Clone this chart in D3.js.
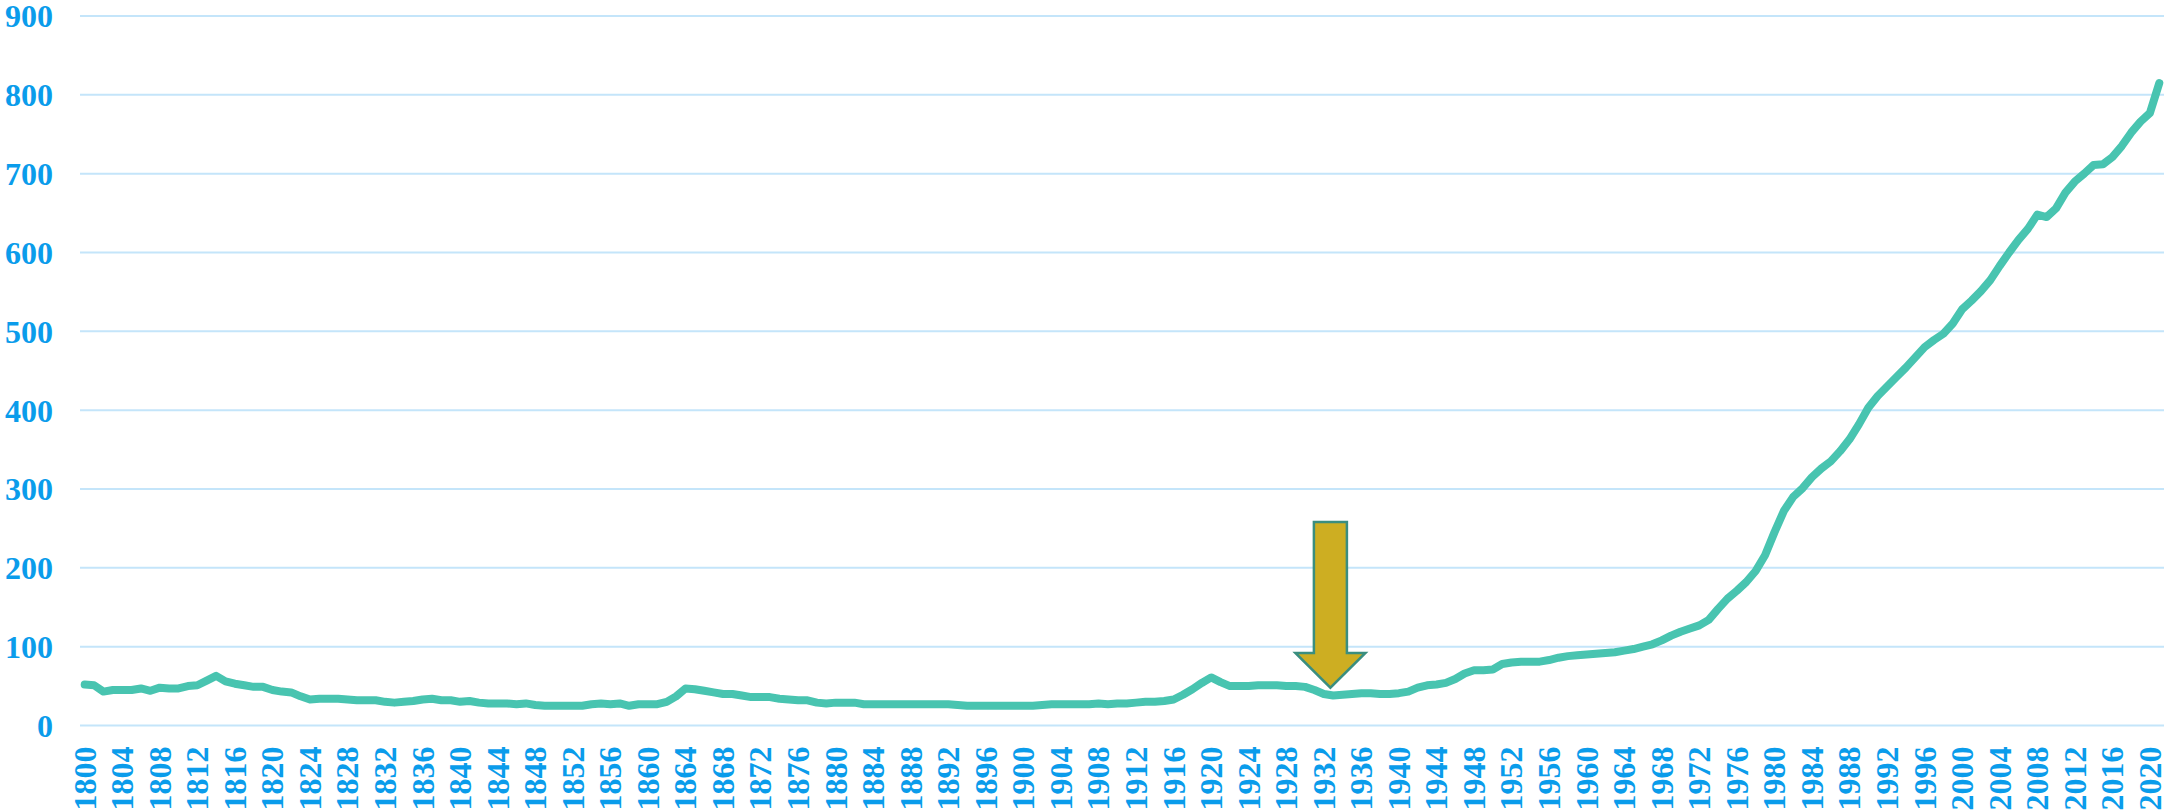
<!DOCTYPE html>
<html>
<head>
<meta charset="utf-8">
<script src="https://cdn.jsdelivr.net/npm/d3@7"></script>
<style>
  html, body { margin: 0; padding: 0; background: #ffffff; }
  svg { display: block; }
</style>
</head>
<body>
<svg id="chart" width="2168" height="811"></svg>
<script>
// ---- data ----
const firstYear = 1800;
const lastYear = 2021;
const years = d3.range(firstYear, lastYear + 1);
const values = [
  52, 51, 43, 45, 45, 45, 47, 44, 48, 47,   // 1800-1809
  47, 50, 51, 57, 63, 56, 53, 51, 49, 49,   // 1810-1819
  45, 43, 42, 37, 33, 34, 34, 34, 33, 32,   // 1820-1829
  32, 32, 30, 29, 30, 31, 33, 34, 32, 32,   // 1830-1839
  30, 31, 29, 28, 28, 28, 27, 28, 26, 25,   // 1840-1849
  25, 25, 25, 25, 27, 28, 27, 28, 25, 27,   // 1850-1859
  27, 27, 30, 37, 47, 46, 44, 42, 40, 40,   // 1860-1869
  38, 36, 36, 36, 34, 33, 32, 32, 29, 28,   // 1870-1879
  29, 29, 29, 27, 27, 27, 27, 27, 27, 27,   // 1880-1889
  27, 27, 27, 26, 25, 25, 25, 25, 25, 25,   // 1890-1899
  25, 25, 26, 27, 27, 27, 27, 27, 28, 27,   // 1900-1909
  28, 28, 29, 30, 30, 31, 33, 39, 46, 54,   // 1910-1919
  61, 55, 50, 50, 50, 51, 51, 51, 50, 50,   // 1920-1929
  49, 45, 40, 38, 39, 40, 41, 41, 40, 40,   // 1930-1939
  41, 43, 48, 51, 52, 54, 59, 66, 70, 70,   // 1940-1949
  71, 78, 80, 81, 81, 81, 83, 86, 88, 89,   // 1950-1959
  90, 91, 92, 93, 95, 97, 100, 103, 108, 114, // 1960-1969
  119, 123, 127, 134, 148, 161, 171, 182, 196, 216, // 1970-1979
  245, 272, 290, 301, 315, 326, 335, 348, 363, 382, // 1980-1989
  403, 418, 430, 442, 454, 467, 480, 489, 497, 510, // 1990-1999
  528, 539, 551, 565, 583, 600, 616, 630, 648, 645, // 2000-2009
  656, 676, 690, 700, 711, 712, 721, 735, 752, 766, // 2010-2019
  777, 815                                   // 2020-2021
];
const yTicks = [0, 100, 200, 300, 400, 500, 600, 700, 800, 900];
const xTickYears = years.filter(y => (y - firstYear) % 4 === 0);
// annotation arrow: points down at the low of the early 1930s
const arrowYear = 1932.7;
const arrowTop = 258, arrowHeadBase = 92, arrowTip = 48;

// ---- layout ----
const svg = d3.select('#chart');
const plot = { left: 80, right: 2164, top: 16, bottom: 725.5 };
const labelColor = '#0A9CEB';
const gridColor = '#C4E5FA';
const lineColor = '#48C4B0';

const x = d3.scaleBand().domain(years).range([plot.left, plot.right]).paddingInner(0).paddingOuter(0);
const xc = yr => x(firstYear) + (yr - firstYear) * x.step() + x.bandwidth() / 2;
const y = d3.scaleLinear().domain([0, 900]).range([plot.bottom, plot.top]);

// gridlines
svg.append('g').selectAll('line').data(yTicks).join('line')
  .attr('x1', plot.left).attr('x2', plot.right)
  .attr('y1', d => y(d)).attr('y2', d => y(d))
  .attr('stroke', gridColor).attr('stroke-width', 2);

// y axis labels
const yAxis = d3.axisLeft(y).tickValues(yTicks).tickSize(0).tickPadding(0);
const gy = svg.append('g').attr('transform', 'translate(53,0)').call(yAxis);
gy.select('.domain').remove();
gy.selectAll('text')
  .attr('font-family', '"Liberation Serif", "Times New Roman", serif')
  .attr('font-weight', 'bold').attr('font-size', 32)
  .attr('fill', labelColor).attr('text-anchor', 'end').attr('dy', '0.34em');

// x axis labels (rotated)
const xAxis = d3.axisBottom(x).tickValues(xTickYears).tickSize(0).tickPadding(0);
const gx = svg.append('g').attr('transform', 'translate(0,' + plot.bottom + ')').call(xAxis);
gx.select('.domain').remove();
gx.selectAll('.tick text')
  .attr('font-family', '"Liberation Serif", "Times New Roman", serif')
  .attr('font-weight', 'bold').attr('font-size', 32)
  .attr('fill', labelColor)
  .attr('text-anchor', 'end')
  .attr('transform', 'translate(0,21) rotate(-90)')
  .attr('x', 0).attr('y', 0).attr('dy', '0.34em');

// line
const line = d3.line().x((d, i) => xc(years[i])).y(d => y(d));
svg.append('path').datum(values)
  .attr('d', line)
  .attr('fill', 'none').attr('stroke', lineColor)
  .attr('stroke-width', 8).attr('stroke-linejoin', 'round').attr('stroke-linecap', 'round');

// arrow annotation
const ax = xc(arrowYear);
const shaftHalf = 16.5, headHalf = 35;
const arrowPts = [
  [ax - shaftHalf, y(arrowTop)], [ax + shaftHalf, y(arrowTop)],
  [ax + shaftHalf, y(arrowHeadBase)], [ax + headHalf, y(arrowHeadBase)],
  [ax, y(arrowTip)],
  [ax - headHalf, y(arrowHeadBase)], [ax - shaftHalf, y(arrowHeadBase)]
];
svg.append('polygon')
  .attr('points', arrowPts.map(p => p.join(',')).join(' '))
  .attr('fill', '#CDAE22').attr('stroke', '#3A8E7F').attr('stroke-width', 2.5)
  .attr('stroke-linejoin', 'miter');
</script>
</body>
</html>
